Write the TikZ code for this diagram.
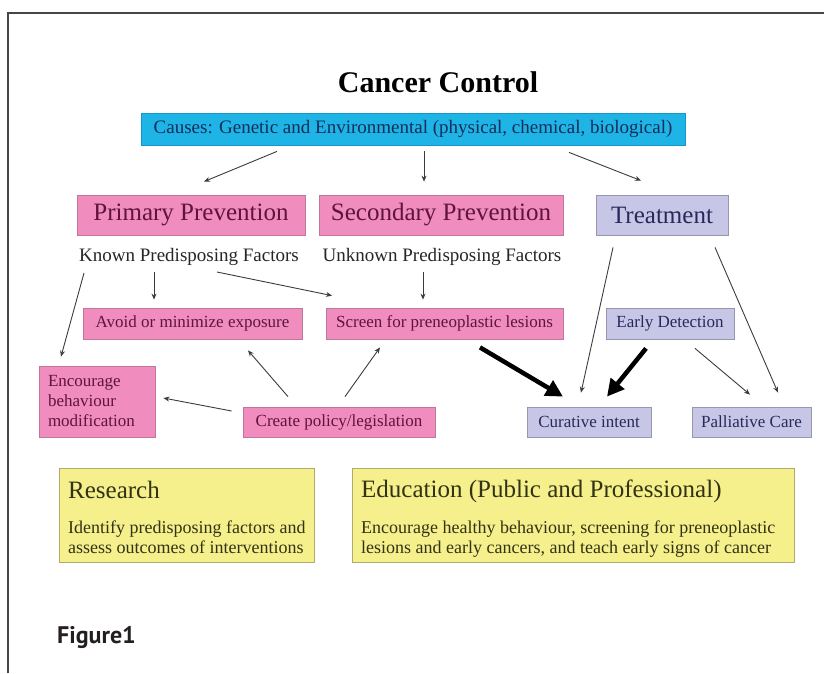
\documentclass[tikz,border=0pt]{standalone}
\usepackage{fontspec}
\setmainfont{Liberation Serif}
\newfontfamily\figfont{PT Sans}
\usetikzlibrary{calc,arrows.meta}
\definecolor{cyanfill}{RGB}{30,180,230}
\definecolor{cyanline}{RGB}{20,150,200}
\definecolor{bluetext}{RGB}{20,45,90}
\definecolor{pinkfill}{RGB}{240,140,190}
\definecolor{pinkline}{RGB}{190,120,155}
\definecolor{pinktext}{RGB}{95,20,60}
\definecolor{lavfill}{RGB}{200,198,230}
\definecolor{lavline}{RGB}{150,150,175}
\definecolor{lavtext}{RGB}{40,40,90}
\definecolor{yelfill}{RGB}{245,240,140}
\definecolor{yelline}{RGB}{175,170,110}
\definecolor{yeltext}{RGB}{50,50,20}
\definecolor{connc}{RGB}{60,60,60}
\definecolor{framec}{RGB}{70,70,70}
\definecolor{figc}{RGB}{35,31,32}
\tikzset{
  boxbase/.style={draw, line width=0.8pt, inner sep=0pt, align=center},
  bluebox/.style={boxbase, fill=cyanfill, draw=cyanline, text=bluetext},
  pinkbox/.style={boxbase, fill=pinkfill, draw=pinkline, text=pinktext},
  lavbox/.style={boxbase, fill=lavfill, draw=lavline, text=lavtext},
  yelbox/.style={boxbase, fill=yelfill, draw=yelline, text=yeltext},
  bigfont/.style={font=\fontsize{25}{30}\selectfont},
  midfont/.style={font=\fontsize{19}{23}\selectfont},
  smallfont/.style={font=\fontsize{17}{20}\selectfont},
  bodyfont/.style={font=\fontsize{18}{20}\selectfont},
  conn/.style={draw=connc, line width=0.9pt, -{Stealth[length=6pt,width=5pt]}},
  bigarrow/.style={draw=black, line width=4.5pt, -{Triangle[length=17pt,width=17pt]}},
  plain/.style={inner sep=0pt}
}
\begin{document}
\begin{tikzpicture}[x=1pt,y=-1pt]
\useasboundingbox (0,0) rectangle (824,673);
\fill[white] (0,0) rectangle (824,673);
% frame
\draw[framec, line width=1.5pt] (8,673) -- (8,13) -- (824,13);

% title
\node[plain, anchor=base, font=\fontsize{30}{36}\selectfont\bfseries] (title) at (438,92) {Cancer Control};

% causes
\node[bluebox, minimum width=544, minimum height=32, font=\fontsize{19}{23}\selectfont] (causes) at (413,129) {Causes: Genetic and Environmental (physical, chemical, biological)};

% top row
\node[pinkbox, bigfont, minimum width=228, minimum height=40] (primary) at (191,215) {Primary Prevention};
\node[pinkbox, bigfont, minimum width=244, minimum height=40] (secondary) at (441,215) {Secondary Prevention};
\node[lavbox, bigfont, minimum width=132, minimum height=40] (treatment) at (662,215) {Treatment};

% factors
\node[plain, midfont, text=black!85] (known) at (189,257) {Known Predisposing Factors};
\node[plain, midfont, text=black!85] (unknown) at (442,257) {Unknown Predisposing Factors};

% second row
\node[pinkbox, smallfont, minimum width=219, minimum height=31] (avoid) at (192.5,323.5) {Avoid or minimize exposure};
\node[pinkbox, smallfont, minimum width=237, minimum height=31] (screen) at (444.5,323.5) {Screen for preneoplastic lesions};
\node[lavbox, smallfont, minimum width=128, minimum height=31] (early) at (670,323.5) {Early Detection};

% third row
\node[pinkbox, smallfont, minimum height=71, text width=98, inner xsep=9pt, align=left] (encourage) at (97,401.5) {Encourage\\behaviour\\modification};
\node[pinkbox, smallfont, minimum width=192, minimum height=30] (create) at (339,422) {Create policy/legislation};
\node[lavbox, smallfont, minimum width=124, minimum height=30] (curative) at (589,422) {Curative intent};
\node[lavbox, smallfont, minimum width=119, minimum height=30] (palliative) at (751.5,422) {Palliative Care};

% bottom boxes
\node[yelbox, minimum width=255, minimum height=94] (research) at (186.5,515) {};
\node[yelbox, minimum width=442, minimum height=94] (education) at (573,515) {};
\node[plain, bigfont, text=yeltext, anchor=base west] (restitle) at (68,498) {Research};
\node[plain, bodyfont, text=yeltext, anchor=base west, align=left] (resbody) at (68,553) {Identify predisposing factors and\\assess outcomes of interventions};
\node[plain, bigfont, text=yeltext, anchor=base west] (edutitle) at (361,497) {Education (Public and Professional)};
\node[plain, bodyfont, text=yeltext, anchor=base west, align=left] (edubody) at (361,553) {Encourage healthy behaviour, screening for preneoplastic\\lesions and early cancers, and teach early signs of cancer};

% figure label
\node[plain, anchor=base west, font=\figfont\bfseries\fontsize{24}{28}\selectfont, text=figc] (figlabel) at (57,643) {Figure1};

% connectors
\draw[conn] ($(causes.south)+(-136,6)$) -- ($(primary.north)+(13,-13)$);
\draw[conn] ($(causes.south)+(11,6)$) -- ($(secondary.north)+(-17,-13)$);
\draw[conn] ($(causes.south)+(156,7)$) -- ($(treatment.north)+(-21,-14)$);

\draw[conn] ($(known.center)+(-105,16)$) -- ($(encourage.north)+(-36,-9)$);
\draw[conn] ($(known.center)+(-35,15)$) -- ($(avoid.north)+(-38.5,-8)$);
\draw[conn] ($(known.center)+(28,15)$) -- ($(screen.north)+(-112.5,-12)$);
\draw[conn] ($(unknown.center)+(-19,15)$) -- ($(screen.north)+(-21.5,-8)$);

\draw[conn] ($(create.west)+(-11,-11)$) -- ($(encourage.east)+(8,-3.5)$);
\draw[conn] ($(create.north)+(-51,-10)$) -- ($(avoid.south)+(55.5,11)$);
\draw[conn] ($(create.north)+(6,-10)$) -- ($(screen.south)+(-64.5,8)$);

\draw[bigarrow] ($(screen.south)+(35.5,8)$) -- ($(curative.north)+(-26,-10)$);
\draw[bigarrow] ($(early.south)+(-24,9)$) -- ($(curative.north)+(18,-10)$);

\draw[conn] ($(treatment.south)+(-49,12)$) -- ($(curative.north)+(-8,-14)$);
\draw[conn] ($(treatment.south)+(53,12)$) -- ($(palliative.north)+(26.5,-14)$);
\draw[conn] ($(early.south)+(25,9)$) -- ($(palliative.north)+(-1.5,-12)$);
\end{tikzpicture}
\end{document}
